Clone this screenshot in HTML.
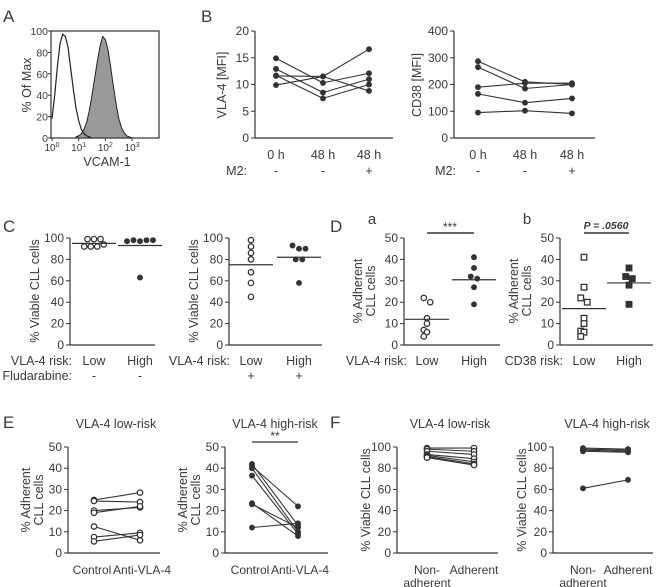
<!DOCTYPE html>
<html><head><meta charset="utf-8"><style>
body{margin:0;background:#fff}
svg{display:block;font-family:"Liberation Sans",Arial,sans-serif;fill:#444}
text{fill:#3a3a3a}
</style></head><body>
<svg id="fig" width="661" height="587" viewBox="0 0 661 587"></svg>
<script>
// ---- data arrays ----
const histLogStart=0, histOpen=[18,40,66,88,97,95,85,65,45,28,16,8,4,2,1,0];
const histFilledStart=0.9, histFilled=[1,2,4,8,15,26,40,56,72,86,95,92,82,66,48,32,18,10,5,2,1,0,0];
const histYTicks=[0,20,40,60,80,100];
const bCats=["0 h","48 h","48 h"], bM2=["-","-","+"];
const vla4Series=[[14.9,10.3,12.1],[12.9,8.5,11.0],[11.7,7.4,10.0],[11.6,11.5,8.8],[9.9,11.5,16.6]];
const vla4Ticks=[0,5,10,15,20];
const cd38Series=[[287,210,200],[265,185,200],[190,205,205],[165,132,148],[95,102,92]];
const cd38Ticks=[0,100,200,300,400];
const pctTicks=[0,20,40,60,80,100], adhTicks=[0,10,20,30,40,50];
const cLowNoFlu=[99,99,99,92,92,92,94], cHighNoFlu=[97,98,97,98,98,63], cMeans1=[95,93];
const cLowFlu=[98,92,86,80,68,58,45], cHighFlu=[93,90,90,80,80,58], cMeans2=[75,82];
const dLow=[22,20,12.5,10,7,6,4], dHigh=[41,36,32,31,27,19], dMeansA=[12,30.5];
const dbLow=[41,27,22,20,12.5,10,6.5,6,4], dbHigh=[36,32,31,28,19], dMeansB=[17,29];
const eLow=[[25,28.5],[24.5,24],[20,21.5],[19,22],[12.5,6],[7.5,9.5],[5.5,8.5]];
const eHigh=[[42,13],[41,22],[40,10],[36.5,9],[23.5,8],[23,12],[12,14]];
const fLow=[[99,99],[98,96],[96,93],[93,89],[92,86],[91,84],[90,83]];
const fHigh=[[99,98],[98,97],[97,96],[96,95],[61,69]];

const NS="http://www.w3.org/2000/svg", svg=document.getElementById('fig');
const FS=12;
function mk(tag,attrs,parent,text){const e=document.createElementNS(NS,tag);for(const k in attrs)e.setAttribute(k,attrs[k]);if(text!==undefined)e.textContent=text;(parent||svg).appendChild(e);return e;}
function txt(x,y,s,size,anchor,name,extra){const t=mk('text',Object.assign({x:x,y:y,'font-size':size,'text-anchor':anchor||'middle'},extra||{}),svg,s);


return t;}
function line(x1,y1,x2,y2,w,name){const l=mk('line',{x1,y1,x2,y2,stroke:'#333','stroke-width':w||1});


return l;}
function yAxis(x0,xEnd,top,bot,ticks,name){const max=ticks[ticks.length-1];const sc=v=>bot-(v/max)*(bot-top);
line(x0,top,x0,bot,1.2,name+'-y-axis');line(x0,bot,xEnd,bot,1.2,name+'-x-axis');
ticks.forEach(v=>{line(x0-4,sc(v),x0,sc(v),1,name+'-tick');txt(x0-6,sc(v)+4,String(v),FS,'end',name+'-tick-label');});return sc;}
function dot(x,y,open,name,sq){let e;if(sq){e=mk('rect',{x:x-2.8,y:y-2.8,width:5.6,height:5.6,fill:open?'#fff':'#333',stroke:'#333','stroke-width':1.3});}
else e=mk('circle',{cx:x,cy:y,r:open?2.7:2.3,fill:open?'#fff':'#333',stroke:'#333','stroke-width':1.3});

}
function ylab(x,y,lines,name){const g=mk('text',{transform:`translate(${x},${y}) rotate(-90)`,'font-size':FS+0.5,'text-anchor':'middle'});


lines.forEach((s,i)=>mk('tspan',{x:0,dy:i?13:0},g,s));}
function scatter(arr,cx,sc,open,name,sq){
 // group points that overlap vertically, spread them horizontally
 const ys=arr.map(v=>sc(v));const placed=[];
 ys.forEach(y=>{const grp=ys.filter(o=>Math.abs(o-y)<5).length;placed.push(grp);});
 const used={};
 ys.forEach((y,i)=>{const key=ys.findIndex(o=>Math.abs(o-y)<5);used[key]=(used[key]||0);const n=placed[i];const off=(used[key]-(n-1)/2)*6.5;used[key]++;dot(cx+off,y,open,name,sq);});
}

// Panel letters
[["A",3,22],["B",201,22],["C",3,232],["D",330,232],["E",3,428],["F",330,428]].forEach(p=>txt(p[1],p[2],p[0],17,'start','panel-label-'+p[0].toLowerCase()));

// ---- Panel A histogram ----
(function(){const x0=51,x1=159,top=31,bot=138;const xs=l=>52+l*26.7;const ys=v=>bot-v/100*(bot-top);
const r=mk('rect',{x:x0,y:top,width:x1-x0,height:bot-top,fill:'none',stroke:'#333','stroke-width':1.2});
let d='M'+xs(histFilledStart)+','+bot;histFilled.forEach((v,i)=>d+=' L'+xs(histFilledStart+i*0.1).toFixed(1)+','+ys(v).toFixed(1));d+=' L'+xs(histFilledStart+(histFilled.length-1)*0.1)+','+bot+'Z';
const f=mk('path',{d:d,fill:'#999',stroke:'#222','stroke-width':1});
let d2='';histOpen.forEach((v,i)=>d2+=(i?' L':'M')+xs(histLogStart+i*0.1).toFixed(1)+','+ys(v).toFixed(1));
const o=mk('path',{d:d2,fill:'none',stroke:'#222','stroke-width':1.2});
histYTicks.forEach(v=>{line(x0-3,ys(v),x0,ys(v),1,'a-tick');txt(x0-3,ys(v)+4,String(v),10.5,'end','a-y-tick-label');});
[0,1,2,3].forEach(k=>{line(xs(k),bot,xs(k),bot+3,1,'a-x-tick');const t=txt(xs(k),bot+13,'10',10,'middle','a-x-tick-label');mk('tspan',{dy:-4,'font-size':7},t,String(k));});
txt(107,166,'VCAM-1',12.5,'middle','a-x-axis-title');ylab(31,85,['% Of Max'],'a-y-axis-title');})();

// ---- Panel B ----
function paired(series,sc,xs,open,name){series.forEach(s=>{for(let i=0;i<s.length-1;i++)line(xs[i],sc(s[i]),xs[i+1],sc(s[i+1]),1.1,name+'-line');s.forEach((v,i)=>dot(xs[i],sc(v),open,name+'-point'));});}
(function(){const sc=yAxis(255,393,31,138,vla4Ticks,'b-vla4');const xs=[276,323,369];paired(vla4Series,sc,xs,false,'b-vla4');
xs.forEach((x,i)=>{txt(x,159,bCats[i],12.5,'middle','b-x-label');txt(x,175,bM2[i],12.5,'middle','b-m2-label');});txt(247,175,'M2:',12.5,'end','b-m2-title');ylab(226,85,['VLA-4 [MFI]'],'b-vla4-y-title');
const sc2=yAxis(454,595,31,138,cd38Ticks,'b-cd38');const xs2=[478,525,572];paired(cd38Series,sc2,xs2,false,'b-cd38');
xs2.forEach((x,i)=>{txt(x,159,bCats[i],12.5,'middle','b-x-label');txt(x,175,bM2[i],12.5,'middle','b-m2-label');});txt(456,175,'M2:',12.5,'end','b-m2-title');ylab(421,85,['CD38 [MFI]'],'b-cd38-y-title');})();

// ---- Panel C ----
function mean(x,y,name){line(x-22,y,x+22,y,1.2,name);}
(function(){let sc=yAxis(70,155,238,345,pctTicks,'c1');scatter(cLowNoFlu,94,sc,true,'c1-low-point');scatter(cHighNoFlu,140,sc,false,'c1-high-point');
mean(94,sc(cMeans1[0]),'c1-low-mean');mean(140,sc(cMeans1[1]),'c1-high-mean');ylab(39,291,['% Viable CLL cells'],'c1-y-title');
txt(72,365,'VLA-4 risk:',12.5,'end','c1-risk-title');txt(94,365,'Low',12.5,'middle','c1-low-label');txt(140,365,'High',12.5,'middle','c1-high-label');
txt(72,380,'Fludarabine:',12.5,'end','c1-flu-title');txt(94,380,'-',12.5,'middle','c-flu');txt(140,380,'-',12.5,'middle','c-flu');
sc=yAxis(229,322,238,345,pctTicks,'c2');scatter(cLowFlu,251,sc,true,'c2-low-point');scatter(cHighFlu,299,sc,false,'c2-high-point');
mean(251,sc(cMeans2[0]),'c2-low-mean');mean(299,sc(cMeans2[1]),'c2-high-mean');ylab(198,291,['% Viable CLL cells'],'c2-y-title');
txt(230,365,'VLA-4 risk:',12.5,'end','c2-risk-title');txt(251,365,'Low',12.5,'middle','c2-low-label');txt(299,365,'High',12.5,'middle','c2-high-label');
txt(251,380,'+',12.5,'middle','c-flu');txt(299,380,'+',12.5,'middle','c-flu');})();

// ---- Panel D ----
(function(){txt(372,224,'a',15,'middle','d-a-label');txt(527,224,'b',15,'middle','d-b-label');
let sc=yAxis(404,500,238,345,adhTicks,'da');scatter(dLow,427,sc,true,'da-low-point');scatter(dHigh,474,sc,false,'da-high-point');
mean(427,sc(dMeansA[0]),'da-low-mean');mean(474,sc(dMeansA[1]),'da-high-mean');
line(427,233,474,233,1.5,'da-significance-bar');txt(450,231,'***',12,'middle','da-significance');
ylab(362,291,['% Adherent','CLL cells'],'da-y-title');
txt(407,365,'VLA-4 risk:',12.5,'end','da-risk-title');txt(427,365,'Low',12.5,'middle','da-low-label');txt(474,365,'High',12.5,'middle','da-high-label');
sc=yAxis(560,653,238,345,adhTicks,'db');scatter(dbLow,584,sc,true,'db-low-point',true);scatter(dbHigh,629,sc,false,'db-high-point',true);
mean(584,sc(dMeansB[0]),'db-low-mean');mean(629,sc(dMeansB[1]),'db-high-mean');
line(584,233,629,233,1.5,'db-significance-bar');txt(606,229,'P = .0560',10.5,'middle','db-p-value',{'font-style':'italic','font-weight':'bold'});
ylab(518,291,['% Adherent','CLL cells'],'db-y-title');
txt(563,365,'CD38 risk:',12.5,'end','db-risk-title');txt(584,365,'Low',12.5,'middle','db-low-label');txt(629,365,'High',12.5,'middle','db-high-label');})();

// ---- Panel E ----
(function(){txt(116,428,'VLA-4 low-risk',12.5,'middle','e-low-title');txt(275,428,'VLA-4 high-risk',12.5,'middle','e-high-title');
let sc=yAxis(68,160,447,553,adhTicks,'el');paired(eLow,sc,[94,140],true,'el');
ylab(30,500,['% Adherent','CLL cells'],'el-y-title');txt(92,574,'Control',12,'middle','e-control-label');txt(142,574,'Anti-VLA-4',12,'middle','e-anti-label');
sc=yAxis(225,328,447,553,adhTicks,'eh');paired(eHigh,sc,[252,298],false,'eh');
line(252,442,298,442,1.3,'eh-significance-bar');txt(275,440,'**',12,'middle','eh-significance');
ylab(187,500,['% Adherent','CLL cells'],'eh-y-title');txt(250,574,'Control',12,'middle','e-control-label');txt(300,574,'Anti-VLA-4',12,'middle','e-anti-label');})();

// ---- Panel F ----
(function(){txt(450,428,'VLA-4 low-risk',12.5,'middle','f-low-title');txt(607,428,'VLA-4 high-risk',12.5,'middle','f-high-title');
let sc=yAxis(397,498,447,553,pctTicks,'fl');paired(fLow,sc,[427,474],true,'fl');
ylab(370,500,['% Viable CLL cells'],'fl-y-title');
txt(427,574,'Non-',12,'middle','f-non-label');txt(427,587,'adherent',12,'middle','f-non-label');txt(474,574,'Adherent',12,'middle','f-adh-label');
sc=yAxis(553,653,447,553,pctTicks,'fh');paired(fHigh,sc,[583,628],false,'fh');
ylab(526,500,['% Viable CLL cells'],'fh-y-title');
txt(583,574,'Non-',12,'middle','f-non-label');txt(583,587,'adherent',12,'middle','f-non-label');txt(628,574,'Adherent',12,'middle','f-adh-label');})();
</script>
</body></html>
